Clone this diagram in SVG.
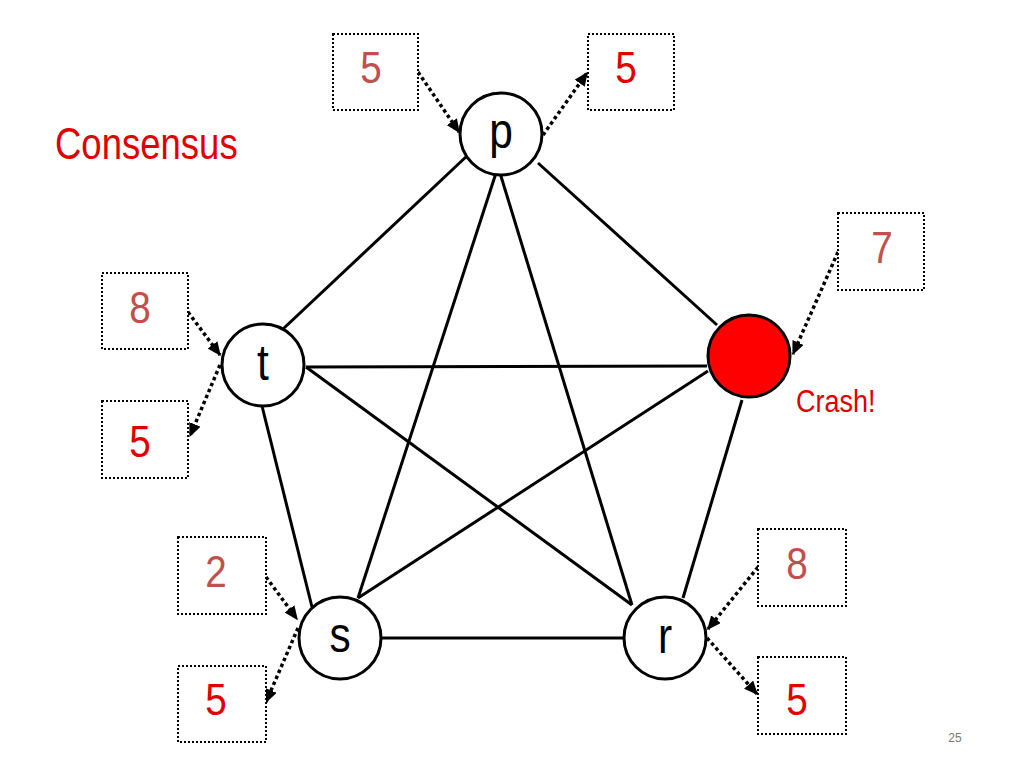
<svg xmlns="http://www.w3.org/2000/svg" width="1024" height="768" viewBox="0 0 1024 768">
<style>
.edge{stroke:#000;stroke-width:3;fill:none}
.node{fill:#fff;stroke:#000;stroke-width:3}
.crash{fill:#f00;stroke:#000;stroke-width:3}
.lbl{font-family:"Liberation Sans",Arial,sans-serif;font-size:50px;text-anchor:middle;fill:#000}
.box{fill:#fff;stroke:#000;stroke-width:2;stroke-dasharray:2 2}
.vin{font-family:"Liberation Sans",Arial,sans-serif;font-size:44px;text-anchor:middle;fill:#C0504D}
.vout{font-family:"Liberation Sans",Arial,sans-serif;font-size:44px;text-anchor:middle;fill:#E00000}
.darr{stroke:#000;stroke-width:3.5;stroke-dasharray:3.5 3;fill:none;marker-end:url(#ah)}
</style>
<defs>
<marker id="ah" viewBox="0 0 10 10" refX="9" refY="5" markerWidth="4" markerHeight="3.5" markerUnits="strokeWidth" orient="auto" preserveAspectRatio="none">
<path d="M0,0 L10,5 L0,10 z" fill="#000"/>
</marker>
</defs>
<rect width="1024" height="768" fill="#fff"/>
<text transform="translate(55,159) scale(0.83,1)" font-family="Liberation Sans,Arial,sans-serif" font-size="44" fill="#E00000">Consensus</text>
<g id="connectors">
<line class="edge" x1="468" y1="155" x2="283" y2="329"/>
<line class="edge" x1="538" y1="163" x2="717" y2="325"/>
<line class="edge" x1="496" y1="173" x2="358" y2="598"/>
<line class="edge" x1="500" y1="173" x2="632" y2="605"/>
<line class="edge" x1="306" y1="367" x2="707" y2="366"/>
<line class="edge" x1="306" y1="367" x2="632" y2="605"/>
<line class="edge" x1="708" y1="371" x2="358" y2="598"/>
<line class="edge" x1="742" y1="400" x2="683" y2="598"/>
<line class="edge" x1="262" y1="406" x2="312" y2="607"/>
<line class="edge" x1="381" y1="638" x2="624" y2="638" stroke-width="4"/>
<line class="darr" x1="418" y1="72" x2="459" y2="132"/>
<line class="darr" x1="543" y1="135" x2="587" y2="73"/>
<line class="darr" x1="838" y1="252" x2="793" y2="354"/>
<line class="darr" x1="188" y1="312" x2="220" y2="355"/>
<line class="darr" x1="220" y1="365" x2="190" y2="436"/>
<line class="darr" x1="266" y1="577" x2="297" y2="619"/>
<line class="darr" x1="298" y1="628" x2="266" y2="702"/>
<line class="darr" x1="758" y1="567" x2="708" y2="629"/>
<line class="darr" x1="707" y1="638" x2="757" y2="694"/>
</g>
<g id="node-p"><circle class="node" cx="501" cy="134" r="41"/><text class="lbl" transform="translate(501,148) scale(0.85,1)">p</text></g>
<g id="node-crash"><circle class="crash" cx="749" cy="356" r="41"/><text transform="translate(796,412) scale(0.87,1)" font-family="Liberation Sans,Arial,sans-serif" font-size="31" fill="#E00000">Crash!</text></g>
<g id="node-t"><circle class="node" cx="263" cy="365" r="41"/><text class="lbl" transform="translate(263,380) scale(0.85,1)">t</text></g>
<g id="node-s"><circle class="node" cx="340" cy="638" r="41"/><text class="lbl" transform="translate(340,652) scale(0.85,1)">s</text></g>
<g id="node-r"><circle class="node" cx="665" cy="638" r="41"/><text class="lbl" transform="translate(665,653) scale(0.85,1)">r</text></g>
<g id="box-p-in"><rect class="box" x="333" y="34" width="85" height="76"/><text class="vin" transform="translate(371,83) scale(0.88,1)">5</text></g>
<g id="box-p-out"><rect class="box" x="588" y="34" width="86" height="76"/><text class="vout" transform="translate(626,83) scale(0.88,1)">5</text></g>
<g id="box-crash-in"><rect class="box" x="838" y="213" width="86" height="77"/><text class="vin" transform="translate(882,263) scale(0.88,1)">7</text></g>
<g id="box-t-in"><rect class="box" x="102" y="273" width="86" height="76"/><text class="vin" transform="translate(140,323) scale(0.88,1)">8</text></g>
<g id="box-t-out"><rect class="box" x="102" y="401" width="86" height="77"/><text class="vout" transform="translate(140,457) scale(0.88,1)">5</text></g>
<g id="box-s-in"><rect class="box" x="178" y="537" width="88" height="77"/><text class="vin" transform="translate(216,587) scale(0.88,1)">2</text></g>
<g id="box-s-out"><rect class="box" x="178" y="666" width="88" height="76"/><text class="vout" transform="translate(216,715) scale(0.88,1)">5</text></g>
<g id="box-r-in"><rect class="box" x="758" y="529" width="88" height="77"/><text class="vin" transform="translate(797,579) scale(0.88,1)">8</text></g>
<g id="box-r-out"><rect class="box" x="758" y="657" width="88" height="77"/><text class="vout" transform="translate(797,715) scale(0.88,1)">5</text></g>
<text x="955" y="742" font-family="Liberation Sans,Arial,sans-serif" font-size="12" fill="#777" text-anchor="middle">25</text>
</svg>
